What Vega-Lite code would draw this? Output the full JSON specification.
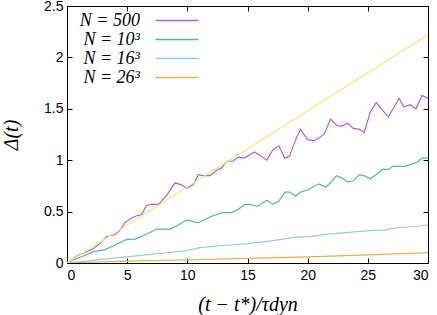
{
  "$schema": "https://vega.github.io/schema/vega-lite/v6.json",
  "width": 361,
  "height": 257,
  "autosize": "none",
  "padding": {"left": 67, "top": 6, "right": 9, "bottom": 52},
  "background": "white",
  "config": {
    "view": {"stroke": "black", "strokeWidth": 1},
    "axis": {
      "grid": false,
      "domainColor": "black",
      "tickColor": "black",
      "tickSize": -5,
      "labelFont": "Liberation Sans",
      "labelFontSize": 14,
      "labelColor": "black",
      "titleFont": "Liberation Serif",
      "titleFontStyle": "italic",
      "titleFontWeight": "normal",
      "titleFontSize": 20,
      "titleColor": "black",
      "format": "~g"
    }
  },
  "datasets": {
    "sim": [
      {"s": "N = 500", "x": 0, "y": 0},
      {"s": "N = 500", "x": 0.94, "y": 0.078},
      {"s": "N = 500", "x": 1.64, "y": 0.11},
      {"s": "N = 500", "x": 2.19, "y": 0.14},
      {"s": "N = 500", "x": 2.74, "y": 0.19},
      {"s": "N = 500", "x": 3.3, "y": 0.26},
      {"s": "N = 500", "x": 3.86, "y": 0.27},
      {"s": "N = 500", "x": 4.27, "y": 0.3},
      {"s": "N = 500", "x": 4.82, "y": 0.39},
      {"s": "N = 500", "x": 5.24, "y": 0.43},
      {"s": "N = 500", "x": 5.79, "y": 0.46},
      {"s": "N = 500", "x": 6.2, "y": 0.47},
      {"s": "N = 500", "x": 6.6, "y": 0.56},
      {"s": "N = 500", "x": 7.0, "y": 0.57},
      {"s": "N = 500", "x": 7.6, "y": 0.57},
      {"s": "N = 500", "x": 8.3, "y": 0.66},
      {"s": "N = 500", "x": 8.98, "y": 0.78},
      {"s": "N = 500", "x": 9.5, "y": 0.76},
      {"s": "N = 500", "x": 9.95, "y": 0.73},
      {"s": "N = 500", "x": 10.5, "y": 0.76},
      {"s": "N = 500", "x": 10.9, "y": 0.86},
      {"s": "N = 500", "x": 11.3, "y": 0.85},
      {"s": "N = 500", "x": 11.9, "y": 0.85},
      {"s": "N = 500", "x": 12.4, "y": 0.9},
      {"s": "N = 500", "x": 12.8, "y": 0.92},
      {"s": "N = 500", "x": 13.3, "y": 0.99},
      {"s": "N = 500", "x": 13.8, "y": 0.99},
      {"s": "N = 500", "x": 14.2, "y": 1.03},
      {"s": "N = 500", "x": 14.7, "y": 1.02},
      {"s": "N = 500", "x": 15.6, "y": 1.08},
      {"s": "N = 500", "x": 16.6, "y": 1.0},
      {"s": "N = 500", "x": 17.1, "y": 1.1},
      {"s": "N = 500", "x": 17.6, "y": 1.14},
      {"s": "N = 500", "x": 18.1, "y": 1.02},
      {"s": "N = 500", "x": 18.5, "y": 1.04},
      {"s": "N = 500", "x": 19.0, "y": 1.2},
      {"s": "N = 500", "x": 19.4, "y": 1.3},
      {"s": "N = 500", "x": 20.0, "y": 1.2},
      {"s": "N = 500", "x": 20.5, "y": 1.19},
      {"s": "N = 500", "x": 21.0, "y": 1.22},
      {"s": "N = 500", "x": 21.4, "y": 1.26},
      {"s": "N = 500", "x": 21.9, "y": 1.4},
      {"s": "N = 500", "x": 22.4, "y": 1.34},
      {"s": "N = 500", "x": 22.8, "y": 1.33},
      {"s": "N = 500", "x": 23.3, "y": 1.36},
      {"s": "N = 500", "x": 23.8, "y": 1.31},
      {"s": "N = 500", "x": 24.3, "y": 1.3},
      {"s": "N = 500", "x": 24.7, "y": 1.27},
      {"s": "N = 500", "x": 25.2, "y": 1.47},
      {"s": "N = 500", "x": 25.7, "y": 1.56},
      {"s": "N = 500", "x": 26.2, "y": 1.49},
      {"s": "N = 500", "x": 26.7, "y": 1.42},
      {"s": "N = 500", "x": 27.1, "y": 1.5},
      {"s": "N = 500", "x": 27.6, "y": 1.6},
      {"s": "N = 500", "x": 28.0, "y": 1.52},
      {"s": "N = 500", "x": 28.5, "y": 1.54},
      {"s": "N = 500", "x": 29.0, "y": 1.5},
      {"s": "N = 500", "x": 29.5, "y": 1.63},
      {"s": "N = 500", "x": 30.0, "y": 1.6},
      {"s": "N = 10³", "x": 0, "y": 0},
      {"s": "N = 10³", "x": 0.67, "y": 0.036},
      {"s": "N = 10³", "x": 1.36, "y": 0.068},
      {"s": "N = 10³", "x": 2.19, "y": 0.11},
      {"s": "N = 10³", "x": 3.16, "y": 0.13},
      {"s": "N = 10³", "x": 3.99, "y": 0.175},
      {"s": "N = 10³", "x": 4.96, "y": 0.23},
      {"s": "N = 10³", "x": 5.65, "y": 0.233},
      {"s": "N = 10³", "x": 6.6, "y": 0.28},
      {"s": "N = 10³", "x": 7.46, "y": 0.33},
      {"s": "N = 10³", "x": 8.56, "y": 0.33},
      {"s": "N = 10³", "x": 9.25, "y": 0.37},
      {"s": "N = 10³", "x": 9.95, "y": 0.42},
      {"s": "N = 10³", "x": 10.9, "y": 0.39},
      {"s": "N = 10³", "x": 11.9, "y": 0.45},
      {"s": "N = 10³", "x": 12.9, "y": 0.49},
      {"s": "N = 10³", "x": 13.7, "y": 0.49},
      {"s": "N = 10³", "x": 14.2, "y": 0.52},
      {"s": "N = 10³", "x": 14.8, "y": 0.57},
      {"s": "N = 10³", "x": 15.2, "y": 0.57},
      {"s": "N = 10³", "x": 15.8, "y": 0.55},
      {"s": "N = 10³", "x": 16.6, "y": 0.61},
      {"s": "N = 10³", "x": 17.1, "y": 0.57},
      {"s": "N = 10³", "x": 17.6, "y": 0.6},
      {"s": "N = 10³", "x": 18.1, "y": 0.69},
      {"s": "N = 10³", "x": 18.5, "y": 0.69},
      {"s": "N = 10³", "x": 19.0, "y": 0.65},
      {"s": "N = 10³", "x": 19.4, "y": 0.69},
      {"s": "N = 10³", "x": 20.0, "y": 0.71},
      {"s": "N = 10³", "x": 20.9, "y": 0.77},
      {"s": "N = 10³", "x": 21.5, "y": 0.74},
      {"s": "N = 10³", "x": 21.9, "y": 0.78},
      {"s": "N = 10³", "x": 22.4, "y": 0.85},
      {"s": "N = 10³", "x": 22.8, "y": 0.83},
      {"s": "N = 10³", "x": 23.3, "y": 0.79},
      {"s": "N = 10³", "x": 23.8, "y": 0.8},
      {"s": "N = 10³", "x": 24.3, "y": 0.86},
      {"s": "N = 10³", "x": 24.7, "y": 0.85},
      {"s": "N = 10³", "x": 25.2, "y": 0.82},
      {"s": "N = 10³", "x": 25.7, "y": 0.86},
      {"s": "N = 10³", "x": 26.2, "y": 0.91},
      {"s": "N = 10³", "x": 26.7, "y": 0.91},
      {"s": "N = 10³", "x": 27.1, "y": 0.94},
      {"s": "N = 10³", "x": 27.6, "y": 0.94},
      {"s": "N = 10³", "x": 28.1, "y": 0.94},
      {"s": "N = 10³", "x": 28.6, "y": 0.96},
      {"s": "N = 10³", "x": 29.1, "y": 0.98},
      {"s": "N = 10³", "x": 29.5, "y": 1.02},
      {"s": "N = 10³", "x": 30.0, "y": 1.02},
      {"s": "N = 16³", "x": 0, "y": 0},
      {"s": "N = 16³", "x": 2.5, "y": 0.03},
      {"s": "N = 16³", "x": 4.96, "y": 0.06},
      {"s": "N = 16³", "x": 7.5, "y": 0.09},
      {"s": "N = 16³", "x": 9.95, "y": 0.12},
      {"s": "N = 16³", "x": 11.05, "y": 0.15},
      {"s": "N = 16³", "x": 13.0, "y": 0.17},
      {"s": "N = 16³", "x": 15.2, "y": 0.19},
      {"s": "N = 16³", "x": 17.1, "y": 0.217},
      {"s": "N = 16³", "x": 18.95, "y": 0.25},
      {"s": "N = 16³", "x": 20.2, "y": 0.256},
      {"s": "N = 16³", "x": 21.6, "y": 0.28},
      {"s": "N = 16³", "x": 22.7, "y": 0.29},
      {"s": "N = 16³", "x": 24.1, "y": 0.305},
      {"s": "N = 16³", "x": 25.2, "y": 0.315},
      {"s": "N = 16³", "x": 26.4, "y": 0.32},
      {"s": "N = 16³", "x": 27.1, "y": 0.34},
      {"s": "N = 16³", "x": 28.2, "y": 0.35},
      {"s": "N = 16³", "x": 29.3, "y": 0.36},
      {"s": "N = 16³", "x": 30.0, "y": 0.37},
      {"s": "N = 26³", "x": 0, "y": 0},
      {"s": "N = 26³", "x": 5, "y": 0.018},
      {"s": "N = 26³", "x": 10, "y": 0.03},
      {"s": "N = 26³", "x": 15, "y": 0.045},
      {"s": "N = 26³", "x": 20, "y": 0.06},
      {"s": "N = 26³", "x": 25, "y": 0.08},
      {"s": "N = 26³", "x": 30, "y": 0.1}
    ],
    "fit": [
      {"x": 0, "y": 0},
      {"x": 30, "y": 2.22}
    ]
  },
  "layer": [
    {
      "data": {"name": "sim"},
      "mark": {"type": "line", "strokeWidth": 1.2, "clip": true},
      "encoding": {
        "x": {
          "field": "x", "type": "quantitative",
          "scale": {"domain": [0, 30], "nice": false},
          "axis": {"orient": "bottom", "values": [0, 5, 10, 15, 20, 25, 30], "title": "(t − t*)/τdyn", "labelPadding": 10, "titlePadding": 12}
        },
        "y": {
          "field": "y", "type": "quantitative",
          "scale": {"domain": [0, 2.5], "nice": false},
          "axis": {"orient": "left", "values": [0, 0.5, 1, 1.5, 2, 2.5], "title": "Δ(t)", "labelPadding": 9, "titlePadding": 22}
        },
        "color": {
          "field": "s", "type": "nominal",
          "scale": {
            "domain": ["N = 500", "N = 10³", "N = 16³", "N = 26³"],
            "range": ["#b55ae6", "#4cbd98", "#8ccbef", "#eab04a"]
          },
          "legend": {
            "title": null,
            "orient": "none",
            "legendX": 0,
            "legendY": 7,
            "padding": 0,
            "symbolType": "stroke",
            "symbolStrokeWidth": 1.5,
            "symbolSize": 64,
            "clipHeight": 15,
            "labelFont": "Liberation Serif",
            "labelFontStyle": "italic",
            "labelFontSize": 18,
            "labelColor": "black",
            "rowPadding": 0,
            "labelLimit": 200,
            "encode": {
              "entries": {"update": {"width": {"value": 150}, "height": {"value": 15}}},
              "symbols": {"update": {"x": {"value": 110}, "size": {"value": 1850}}},
              "labels": {"update": {"x": {"value": 73}, "align": {"value": "right"}}}
            }
          }
        }
      }
    },
    {
      "data": {"name": "fit"},
      "mark": {"type": "line", "strokeWidth": 1.2, "color": "#f5e86a", "clip": true},
      "encoding": {
        "x": {
          "field": "x", "type": "quantitative",
          "scale": {"domain": [0, 30], "nice": false},
          "axis": {"orient": "top", "values": [0, 5, 10, 15, 20, 25, 30], "labels": false, "title": null}
        },
        "y": {
          "field": "y", "type": "quantitative",
          "scale": {"domain": [0, 2.5], "nice": false},
          "axis": {"orient": "right", "values": [0, 0.5, 1, 1.5, 2, 2.5], "labels": false, "title": null}
        }
      }
    }
  ],
  "resolve": {"axis": {"x": "independent", "y": "independent"}}
}
